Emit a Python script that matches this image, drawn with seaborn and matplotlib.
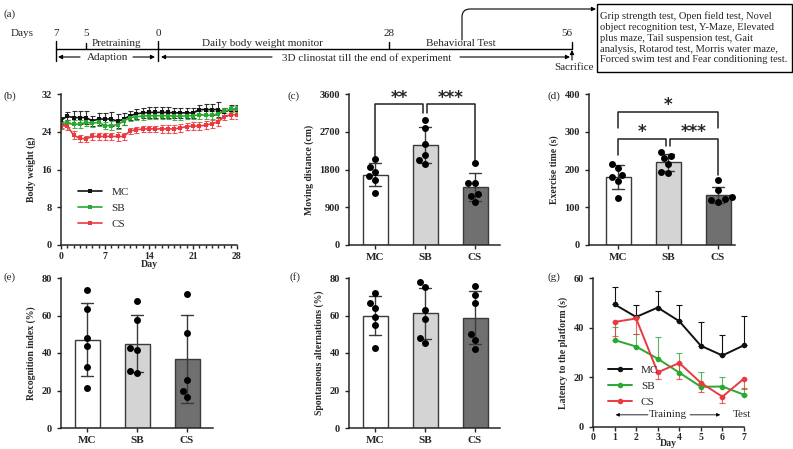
import numpy as np
import pandas as pd
import matplotlib
matplotlib.use("Agg")
import matplotlib.pyplot as plt
import seaborn as sns
from matplotlib.ticker import MultipleLocator
from matplotlib.patches import Rectangle

sns.set_style("ticks")
plt.rcParams['font.family'] = ['Liberation Serif', 'DejaVu Serif']
plt.rcParams['font.size'] = 7
plt.rcParams['axes.linewidth'] = 1.1
plt.rcParams['xtick.major.width'] = 1.0
plt.rcParams['ytick.major.width'] = 1.0
plt.rcParams['xtick.major.size'] = 3
plt.rcParams['ytick.major.size'] = 3

W, H = 793, 449

# ---- data ----
groups = ["MC", "SB", "CS"]
bar_colors = {"MC": "#ffffff", "SB": "#d4d4d4", "CS": "#707070"}
line_colors = {"MC": "#111111", "SB": "#2aa830", "CS": "#ea3a40"}

# (b) body weight, day 0-28
days_b = list(range(29))
mc_weight = [26.4, 27.3, 27.0, 27.0, 27.0, 26.3, 26.7, 26.7, 26.7, 26.2, 26.7, 27.4, 27.8, 28.0, 28.1,
             28.1, 28.1, 28.1, 28.0, 28.0, 28.0, 28.0, 28.7, 28.7, 28.7, 28.7, 28.2, 28.7, 28.7]
mc_weight_sd = [0.8, 0.9, 1.3, 1.3, 1.3, 1.1, 1.2, 1.3, 1.4, 1.5, 1.3, 1.0, 1.0, 1.1, 1.1,
                1.1, 1.1, 1.1, 1.1, 1.1, 1.1, 1.1, 1.0, 1.1, 1.1, 1.6, 0.8, 0.9, 0.9]
sb_weight = [25.6, 25.8, 25.6, 25.6, 26.0, 25.8, 26.0, 25.3, 25.3, 25.5, 26.3, 27.0, 27.2, 27.3, 27.4,
             27.4, 27.4, 27.4, 27.3, 27.3, 27.4, 27.4, 27.6, 27.5, 27.5, 27.8, 28.3, 28.8, 28.8]
sb_weight_sd = [0.7, 0.7, 0.8, 0.8, 0.8, 0.8, 0.8, 0.8, 0.9, 0.9, 0.8, 0.7, 0.7, 0.8, 0.8,
                0.8, 0.8, 0.8, 0.8, 0.8, 0.8, 0.8, 0.8, 0.8, 0.8, 0.8, 0.8, 0.7, 0.7]
cs_weight = [25.3, 25.2, 23.3, 22.6, 22.5, 23.0, 23.0, 23.0, 23.0, 23.0, 23.0, 24.2, 24.4, 24.6, 24.6,
             24.6, 24.6, 24.6, 24.6, 24.8, 25.1, 25.2, 25.2, 25.4, 25.7, 26.1, 27.2, 27.6, 27.6]
cs_weight_sd = [0.8, 0.8, 0.8, 0.7, 0.7, 0.7, 0.7, 0.8, 0.8, 0.9, 0.8, 0.6, 0.6, 0.7, 0.7,
                0.7, 0.8, 0.8, 0.8, 0.8, 0.8, 0.8, 0.8, 0.8, 0.8, 0.8, 0.8, 0.9, 0.9]

# (c) moving distance (cm)
mc_distance = [2051, 1852, 1733, 1645, 1550, 1248]
sb_distance = [2980, 2780, 2400, 2150, 1930, 2030]
cs_distance = [1963, 1470, 1486, 1208, 1168, 1033]

# (d) exercise time (s)
mc_exercise = [204, 214, 170, 185, 180, 125]
sb_exercise = [247, 236, 231, 215, 191, 193]
cs_exercise = [172, 145, 115, 122, 120, 126]

# (e) recognition index (%)
mc_recog = [73.5, 63.5, 48.1, 43.9, 32.4, 21.1]
sb_recog = [67.8, 57.5, 41.8, 42.7, 29.2, 30.6]
cs_recog = [71.3, 50.6, 25.8, 16.6, 19.6]

# (f) spontaneous alternations (%)
mc_alt = [72.0, 66.9, 64.1, 59.1, 54.9, 42.8]
sb_alt = [75.0, 77.9, 63.2, 57.9, 45.1, 48.0]
cs_alt = [75.9, 71.0, 66.9, 50.1, 46.9, 41.9]

# (g) Morris water maze latency (s)
days_g = [1, 2, 3, 4, 5, 6, 7]
mc_latency = [49.4, 44.3, 48.1, 42.6, 32.7, 28.8, 32.9]
mc_latency_err = [6.8, 4.8, 6.6, 6.5, 9.4, 8.1, 11.6]
sb_latency = [35.0, 32.4, 27.5, 21.9, 16.2, 16.3, 13.0]
sb_latency_err = [5.1, 5.0, 8.8, 7.8, 6.1, 4.0, 2.9]
cs_latency = [42.3, 43.7, 22.0, 25.8, 17.8, 12.2, 19.5]
cs_latency_err = [5.8, 6.3, 2.5, 6.6, 3.8, 2.5, 4.2]

# (a) timeline
timeline_days = ["7", "5", "0", "28", "56"]
phase_labels = ["Pretraining", "Daily body weight monitor", "Behavioral Test"]
test_list = ["Grip strength test, Open field test, Novel",
             "object recognition test, Y-Maze, Elevated",
             "plus maze, Tail suspension test, Gait",
             "analysis, Rotarod test, Morris water maze,",
             "Forced swim test and Fear conditioning test."]

fig = plt.figure(figsize=(W / 100, H / 100), dpi=100)


def px_axes(left, top, right, bottom):
    return fig.add_axes([left / W, 1 - bottom / H, (right - left) / W, (bottom - top) / H])


def style_axes(ax):
    sns.despine(ax=ax)
    for lab in ax.get_xticklabels() + ax.get_yticklabels():
        lab.set_fontweight("bold")


def long_df(mc, sb, cs):
    return pd.DataFrame({"group": ["MC"] * len(mc) + ["SB"] * len(sb) + ["CS"] * len(cs),
                         "value": list(mc) + list(sb) + list(cs)})


def bar_panel(ax, df, ylabel, ymax, ystep, xlim):
    sns.barplot(data=df, x="group", y="value", hue="group", order=groups, hue_order=groups,
                palette=bar_colors, legend=False, errorbar="sd", capsize=0.25, width=0.5,
                edgecolor="#3a3a3a", linewidth=1.0,
                err_kws={"color": "#3a3a3a", "linewidth": 1.0}, ax=ax)
    sns.swarmplot(data=df, x="group", y="value", order=groups, color="black", size=5, ax=ax, zorder=5)
    ax.set_ylim(0, ymax)
    ax.set_yticks(np.arange(0, ymax + 1, ystep))
    ax.set_xlim(*xlim)
    ax.set_xlabel("")
    ax.set_ylabel(ylabel, fontweight="bold", fontsize=7)
    ax.tick_params(axis="x", length=3, labelsize=8, pad=3)
    ax.tick_params(axis="y", labelsize=7.5)
    style_axes(ax)


def bracket(ax, x1, x2, y, y1, y2, text, ty, fs=12):
    ax.plot([x1, x1, x2, x2], [y1, y, y, y2], color="#222222", lw=1.1, clip_on=False)
    ax.text((x1 + x2) / 2, ty, text, ha="center", va="center", fontsize=fs, fontweight="bold",
            family="DejaVu Sans")


# ---- (a) timeline ----
ax_a = fig.add_axes([0, 1 - 80 / H, 1, 80 / H])
ax_a.set_xlim(0, W)
ax_a.set_ylim(80, 0)
ax_a.axis("off")
tl_fs = 8
ax_a.text(3, 14, "(a)", fontsize=8, va="center")
ax_a.text(22, 33, "Days", fontsize=tl_fs, ha="center", va="center")
for lab, x in zip(timeline_days, [56, 86, 158, 389, 567]):
    ax_a.text(x, 33, lab, fontsize=tl_fs, ha="center", va="center")
ax_a.plot([56, 572], [49, 49], color="black", lw=1)
ax_a.plot([56, 56], [41, 61], color="black", lw=1)
ax_a.plot([158, 158], [41, 61], color="black", lw=1)
ax_a.plot([86, 86], [43, 49], color="black", lw=1)
ax_a.plot([389, 389], [42, 49], color="black", lw=1)
ax_a.plot([572, 572], [42, 49], color="black", lw=1)
for lab, x in zip(phase_labels, [117, 262, 461]):
    ax_a.text(x, 44, lab, fontsize=tl_fs, ha="center", va="center")
arrow_kw = dict(arrowstyle="-|>", color="black", lw=0.8, mutation_scale=6, shrinkA=0, shrinkB=0)
ax_a.annotate("", xy=(58, 57), xytext=(80, 57), arrowprops=arrow_kw)
ax_a.text(108, 58, "Adaption", fontsize=tl_fs, ha="center", va="center")
ax_a.annotate("", xy=(155, 57), xytext=(133, 57), arrowprops=arrow_kw)
ax_a.annotate("", xy=(161, 57), xytext=(272, 57), arrowprops=arrow_kw)
ax_a.text(367, 58, "3D clinostat till the end of experiment", fontsize=tl_fs, ha="center", va="center")
ax_a.annotate("", xy=(570, 57), xytext=(460, 57), arrowprops=arrow_kw)
ax_a.annotate("", xy=(572, 50), xytext=(572, 60), arrowprops=arrow_kw)
ax_a.text(574, 68, "Sacrifice", fontsize=tl_fs, ha="center", va="center")
ax_a.annotate("", xy=(596, 9), xytext=(462, 40),
              arrowprops=dict(arrowstyle="-|>", color="black", lw=0.8, mutation_scale=6,
                              shrinkA=0, shrinkB=0, connectionstyle="angle,angleA=90,angleB=0,rad=8"))
ax_a.add_patch(Rectangle((597, 4), 195, 68, fill=False, edgecolor="black", lw=1))
ax_a.text(600, 38, "\n".join(test_list), fontsize=7.6, ha="left", va="center", linespacing=1.25)

# ---- (b) body weight ----
ax_b = px_axes(61, 94, 237, 245)
weight_df = pd.DataFrame({"day": days_b * 3,
                          "weight": mc_weight + sb_weight + cs_weight,
                          "group": ["MC"] * 29 + ["SB"] * 29 + ["CS"] * 29})
for g, vals, sd in [("MC", mc_weight, mc_weight_sd), ("SB", sb_weight, sb_weight_sd),
                    ("CS", cs_weight, cs_weight_sd)]:
    ax_b.errorbar(days_b, vals, yerr=sd, fmt="none", ecolor=line_colors[g], elinewidth=0.8,
                  capsize=1.8, capthick=0.8, alpha=0.85)
sns.lineplot(data=weight_df, x="day", y="weight", hue="group", hue_order=groups, palette=line_colors,
             marker="s", markersize=3, markeredgewidth=0, linewidth=1.2, ax=ax_b)
ax_b.set_xlim(0, 28)
ax_b.set_ylim(0, 32)
ax_b.set_xticks([0, 7, 14, 21, 28])
ax_b.xaxis.set_minor_locator(MultipleLocator(1))
ax_b.tick_params(axis="x", which="minor", length=2.5, width=1)
ax_b.tick_params(axis="x", pad=2)
ax_b.tick_params(axis="y", labelsize=7.5)
ax_b.set_yticks([0, 8, 16, 24, 32])
ax_b.set_xlabel("Day", fontweight="bold", fontsize=7, labelpad=-1)
ax_b.set_ylabel("Body weight (g)", fontweight="bold", fontsize=7)
ax_b.legend(frameon=False, loc="upper left", bbox_to_anchor=(0.04, 0.45), fontsize=8,
            handlelength=2.2, labelspacing=0.55)
style_axes(ax_b)
fig.text(3 / W, 1 - 96 / H, "(b)", fontsize=8, va="center")

# ---- (c) moving distance ----
ax_c = px_axes(349, 94, 500, 245)
bar_panel(ax_c, long_df(mc_distance, sb_distance, cs_distance), "Moving distance (cm)", 3600, 900, (-0.52, 2.5))
bracket(ax_c, 0, 0.96, 3360, 2110, 3140, "**", 3500)
bracket(ax_c, 1.04, 2, 3360, 3140, 2030, "***", 3500)
fig.text(288 / W, 1 - 96 / H, "(c)", fontsize=8, va="center")

# ---- (d) exercise time ----
ax_d = px_axes(589, 94, 735, 245)
bar_panel(ax_d, long_df(mc_exercise, sb_exercise, cs_exercise), "Exercise time (s)", 400, 100, (-0.58, 2.34))
bracket(ax_d, 0, 2, 353, 309, 309, "*", 372)
bracket(ax_d, 0, 0.96, 282, 238, 262, "*", 300)
bracket(ax_d, 1.04, 2, 282, 262, 185, "***", 300)
fig.text(547 / W, 1 - 96 / H, "(d)", fontsize=8, va="center")

# ---- (e) recognition index ----
ax_e = px_axes(61, 278, 213, 428)
bar_panel(ax_e, long_df(mc_recog, sb_recog, cs_recog), "Recognition index (%)", 80, 20, (-0.52, 2.52))
fig.text(3 / W, 1 - 277 / H, "(e)", fontsize=8, va="center")

# ---- (f) spontaneous alternations ----
ax_f = px_axes(349, 278, 500, 428)
bar_panel(ax_f, long_df(mc_alt, sb_alt, cs_alt), "Spontaneous alternations (%)", 80, 20, (-0.52, 2.5))
fig.text(290 / W, 1 - 277 / H, "(f)", fontsize=8, va="center")

# ---- (g) latency ----
ax_g = px_axes(593, 278, 744, 427)
zeros = [0] * len(days_g)
ax_g.errorbar(days_g, mc_latency, yerr=[zeros, mc_latency_err], fmt="none", ecolor=line_colors["MC"],
              elinewidth=0.8, capsize=2.2, capthick=0.8, clip_on=False)
ax_g.errorbar(days_g, sb_latency, yerr=[zeros, sb_latency_err], fmt="none", ecolor=line_colors["SB"],
              elinewidth=0.8, capsize=2.2, capthick=0.8, alpha=0.8, clip_on=False)
ax_g.errorbar(days_g, cs_latency, yerr=[cs_latency_err, zeros], fmt="none", ecolor=line_colors["CS"],
              elinewidth=0.8, capsize=2.2, capthick=0.8, alpha=0.8, clip_on=False)
latency_df = pd.DataFrame({"day": days_g * 3,
                           "latency": mc_latency + sb_latency + cs_latency,
                           "group": ["MC"] * 7 + ["SB"] * 7 + ["CS"] * 7})
sns.lineplot(data=latency_df, x="day", y="latency", hue="group", hue_order=groups, palette=line_colors,
             marker="o", markersize=4, markeredgewidth=0, linewidth=1.4, ax=ax_g, clip_on=False)
ax_g.set_xlim(0, 7)
ax_g.set_ylim(0, 60)
ax_g.set_xticks(range(0, 8))
ax_g.set_yticks([0, 20, 40, 60])
ax_g.tick_params(axis="x", pad=1.5)
ax_g.tick_params(axis="y", labelsize=7.5)
ax_g.set_xlabel("Day", fontweight="bold", fontsize=7, labelpad=-2)
ax_g.set_ylabel("Latency to the platform (s)", fontweight="bold", fontsize=7)
ax_g.legend(frameon=False, loc="upper left", bbox_to_anchor=(0.03, 0.48), fontsize=8,
            handlelength=2.2, labelspacing=0.55)
tr_kw = dict(arrowstyle="-|>", color="black", lw=0.6, mutation_scale=5, shrinkA=0, shrinkB=0)
ax_g.annotate("", xy=(1.05, 4.9), xytext=(2.55, 4.9), arrowprops=tr_kw)
ax_g.text(3.45, 5.0, "Training", fontsize=8, ha="center", va="center")
ax_g.annotate("", xy=(5.9, 4.9), xytext=(4.5, 4.9), arrowprops=tr_kw)
ax_g.text(6.9, 5.0, "Test", fontsize=8, ha="center", va="center")
style_axes(ax_g)
fig.text(547 / W, 1 - 277 / H, "(g)", fontsize=8, va="center")

fig.savefig("out.png", dpi=100)
